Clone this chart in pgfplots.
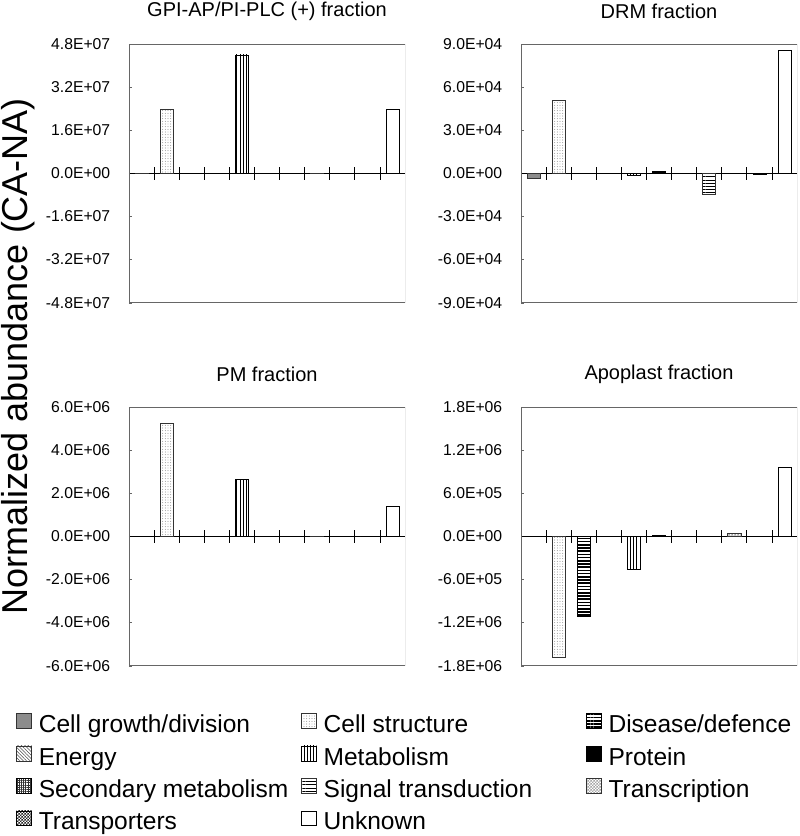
\documentclass[border=0pt]{standalone}
\usepackage{fontspec}
\setmainfont{Liberation Sans}
\usepackage{pgfplots}
\pgfplotsset{compat=1.18}
\usetikzlibrary{patterns,patterns.meta}

% small checkerboard tile
\pgfdeclarepatternformonly{finechecker}{\pgfpointorigin}{\pgfqpoint{2.2pt}{2.2pt}}{\pgfqpoint{2.2pt}{2.2pt}}{%
  \pgfpathrectangle{\pgfpointorigin}{\pgfqpoint{1.1pt}{1.1pt}}%
  \pgfpathrectangle{\pgfqpoint{1.1pt}{1.1pt}}{\pgfqpoint{1.1pt}{1.1pt}}%
  \pgfusepath{fill}}

% category fills
\tikzset{
  cg/.style={draw=black!80,fill=black!45},
  cs/.style={draw=black!80,pattern={Dots[distance=2pt,radius=0.35pt]},pattern color=black!55},
  dd/.style={draw=black,pattern={Lines[angle=0,distance=2.4pt,line width=1.1pt]},pattern color=black},
  en/.style={draw=black!80,pattern={Lines[angle=-45,distance=1.8pt,line width=0.4pt]},pattern color=black!70},
  me/.style={draw=black,pattern={Lines[angle=90,distance=2.4pt,line width=0.5pt]},pattern color=black},
  pr/.style={draw=black,fill=black},
  sm/.style={draw=black,pattern={Hatch[angle=0,distance=1.6pt,line width=0.35pt]},pattern color=black!80},
  st/.style={draw=black!80,pattern={Lines[angle=0,distance=2.4pt,line width=0.45pt]},pattern color=black},
  tc/.style={draw=black!80,pattern=finechecker,pattern color=black!35},
  tp/.style={draw=black,pattern=finechecker,pattern color=black!85},
  un/.style={draw=black,fill=white},
}

\pgfplotsset{
  panel/.style={
    scale only axis,width=207pt,height=194pt,
    anchor=north west,
    xmin=0.5,xmax=11.5,
    axis x line=middle,axis y line=left,
    axis line style={-},
    x axis line style={black,line width=0.5pt},
    y axis line style={black!60},
    xtick={1.5,2.5,...,10.5},xticklabels={},
    scaled y ticks=false,
    tick align=center,
    major tick length=9.75pt,minor tick length=2.5pt,
    major x tick style={black,line width=0.5pt},
    major y tick style={draw=none},
    minor y tick style={black!60,xshift=1.25pt},
    yticklabel style={font=\fontsize{11.8}{13}\selectfont,inner sep=0pt,xshift=-9pt},
    title style={font=\fontsize{15}{18}\selectfont,at={(0.5,1)},anchor=center,yshift=18.75pt},
    every axis plot/.append style={ybar,bar width=0.52,bar shift=0pt,line width=0.4pt,forget plot},
  },
}

\newcommand\legtext[1]{\makebox[202pt][l]{\hspace{5.25pt}\rule[-5.5pt]{0pt}{24.4pt}#1}}

\begin{document}
\begin{tikzpicture}
\useasboundingbox (0,0) rectangle (600pt,-627pt);

\node[rotate=90,font=\fontsize{27}{32}\selectfont] at (13.5pt,-267pt) {Normalized abundance (CA-NA)};

% GPI-AP/PI-PLC (+)
\begin{axis}[panel,at={(96.75pt,-33pt)},
  title={GPI-AP/PI-PLC (+) fraction},
  ymin=-4.8e7,ymax=4.8e7,
  ytick={-4.8e7,-3.2e7,-1.6e7,0,1.6e7,3.2e7,4.8e7},
  minor ytick={-4.8e7,-3.2e7,-1.6e7,0,1.6e7,3.2e7,4.8e7},
  yticklabels={-4.8E+07,-3.2E+07,-1.6E+07,0.0E+00,1.6E+07,3.2E+07,4.8E+07}]
\addplot[cg] coordinates {(1,-1.5e5)};
\addplot[cs] coordinates {(2,2.36e7)};
\addplot[me] coordinates {(5,4.40e7)};
\addplot[pr] coordinates {(6,1.0e5)};
\addplot[st] coordinates {(8,1.0e5)};
\addplot[tp] coordinates {(10,-1.5e5)};
\addplot[un] coordinates {(11,2.38e7)};
\draw[black!60] (rel axis cs:0,0) rectangle (rel axis cs:1,1);
\end{axis}

% DRM
\begin{axis}[panel,at={(390.75pt,-33pt)},
  title={DRM fraction},
  ymin=-9e4,ymax=9e4,
  ytick={-9e4,-6e4,-3e4,0,3e4,6e4,9e4},
  minor ytick={-9e4,-6e4,-3e4,0,3e4,6e4,9e4},
  yticklabels={-9.0E+04,-6.0E+04,-3.0E+04,0.0E+00,3.0E+04,6.0E+04,9.0E+04}]
\addplot[cg] coordinates {(1,-3300)};
\addplot[cs] coordinates {(2,50500)};
\addplot[me] coordinates {(5,-1200)};
\addplot[pr] coordinates {(6,1500)};
\addplot[st] coordinates {(8,-14500)};
\addplot[tp] coordinates {(10,-400)};
\addplot[un] coordinates {(11,85300)};
\draw[black!60] (rel axis cs:0,0) rectangle (rel axis cs:1,1);
\end{axis}

% PM
\begin{axis}[panel,at={(96.75pt,-305.25pt)},
  title={PM fraction},
  ymin=-6e6,ymax=6e6,
  ytick={-6e6,-4e6,-2e6,0,2e6,4e6,6e6},
  minor ytick={-6e6,-4e6,-2e6,0,2e6,4e6,6e6},
  yticklabels={-6.0E+06,-4.0E+06,-2.0E+06,0.0E+00,2.0E+06,4.0E+06,6.0E+06},
  legend columns=3,legend cell align=left,
  legend image code/.code={\draw[#1,line width=0.4pt] (0pt,-5.6pt) rectangle (11.25pt,5.6pt);},
  legend style={at={(-0.4094,-0.1605)},anchor=north west,draw=none,fill=none,
    inner sep=0pt,row sep=3.9pt,font=\fontsize{18.4}{22}\selectfont,
    nodes={inner sep=0pt},/tikz/every even column/.append style={column sep=0pt}}]
\addplot[cs] coordinates {(2,5.25e6)};
\addplot[me] coordinates {(5,2.64e6)};
\addplot[pr] coordinates {(6,1.5e4)};
\addplot[st] coordinates {(8,1.5e4)};
\addplot[tp] coordinates {(10,-1.5e4)};
\addplot[un] coordinates {(11,1.41e6)};
\draw[black!60] (rel axis cs:0,0) rectangle (rel axis cs:1,1);
\addlegendimage{cg}\addlegendentry{\legtext{Cell growth/division}}
\addlegendimage{cs}\addlegendentry{\legtext{Cell structure}}
\addlegendimage{dd}\addlegendentry{\legtext{Disease/defence}}
\addlegendimage{en}\addlegendentry{\legtext{Energy}}
\addlegendimage{me}\addlegendentry{\legtext{Metabolism}}
\addlegendimage{pr}\addlegendentry{\legtext{Protein}}
\addlegendimage{sm}\addlegendentry{\legtext{Secondary metabolism}}
\addlegendimage{st}\addlegendentry{\legtext{Signal transduction}}
\addlegendimage{tc}\addlegendentry{\legtext{Transcription}}
\addlegendimage{tp}\addlegendentry{\legtext{Transporters}}
\addlegendimage{un}\addlegendentry{\legtext{Unknown}}
\end{axis}

% Apoplast
\begin{axis}[panel,at={(390.75pt,-305.25pt)},
  title={Apoplast fraction},
  ymin=-1.8e6,ymax=1.8e6,
  ytick={-1.8e6,-1.2e6,-6e5,0,6e5,1.2e6,1.8e6},
  minor ytick={-1.8e6,-1.2e6,-6e5,0,6e5,1.2e6,1.8e6},
  yticklabels={-1.8E+06,-1.2E+06,-6.0E+05,0.0E+00,6.0E+05,1.2E+06,1.8E+06}]
\addplot[cs] coordinates {(2,-1.688e6)};
\addplot[dd] coordinates {(3,-1.115e6)};
\addplot[me] coordinates {(5,-4.52e5)};
\addplot[pr] coordinates {(6,1.2e4)};
\addplot[tc] coordinates {(9,3.7e4)};
\addplot[un] coordinates {(11,9.6e5)};
\draw[black!60] (rel axis cs:0,0) rectangle (rel axis cs:1,1);
\end{axis}
\end{tikzpicture}
\end{document}
